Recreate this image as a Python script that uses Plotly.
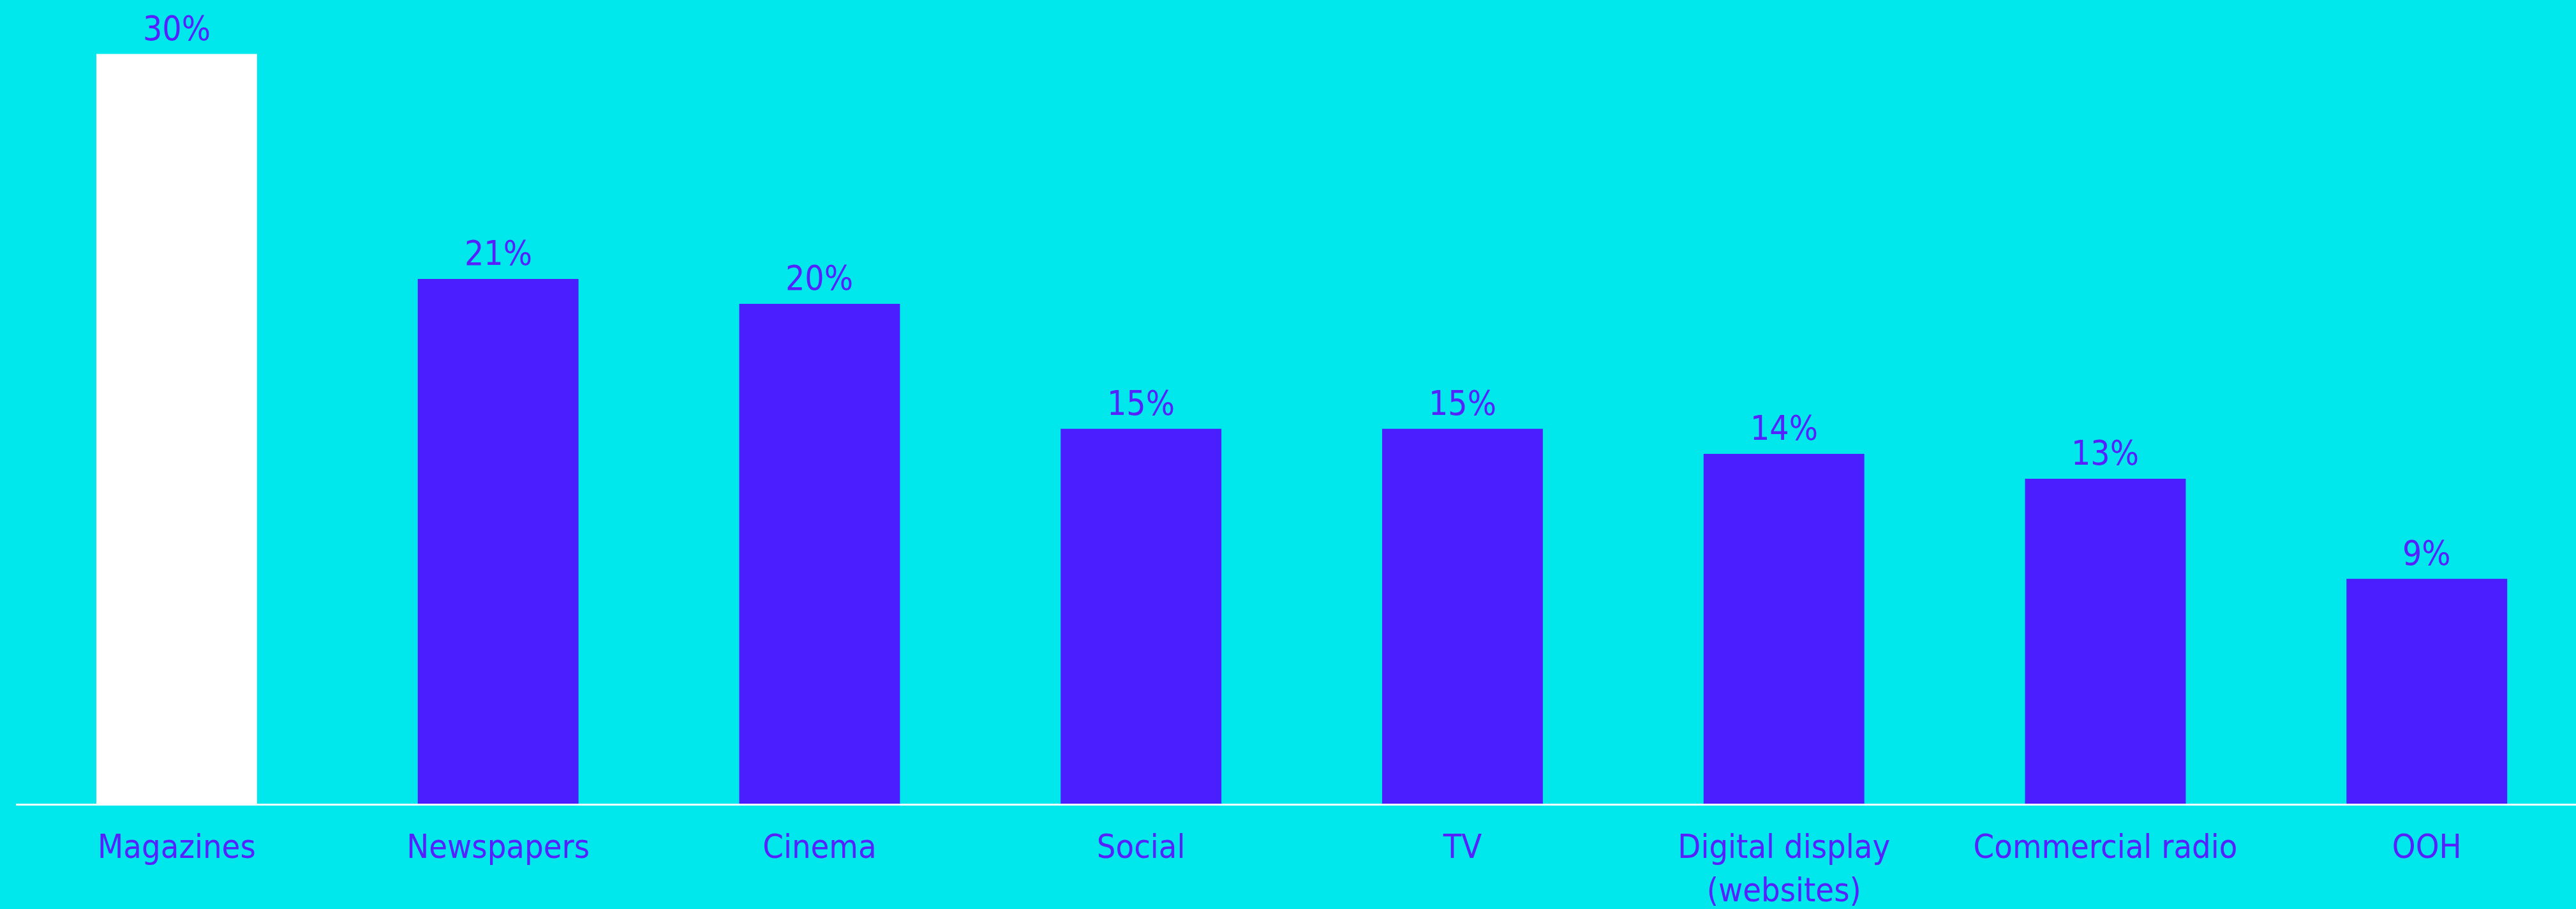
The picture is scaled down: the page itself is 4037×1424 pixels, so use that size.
import plotly.graph_objects as go

# Share of respondents by media channel
channels = ["Magazines", "Newspapers", "Cinema", "Social", "TV",
            "Digital display<br>(websites)", "Commercial radio", "OOH"]
shares = [30, 21, 20, 15, 15, 14, 13, 9]

BG = "#00E8EB"
PURPLE = "#4B1EFF"
TEXT = "#5522FF"
FONT = "DejaVu Sans Condensed"

colors = ["#FFFFFF"] + [PURPLE] * (len(shares) - 1)

fig = go.Figure(
    go.Bar(
        x=list(range(len(channels))),
        y=shares,
        width=0.5,
        marker=dict(color=colors, line=dict(width=0)),
        hoverinfo="skip",
    )
)

for i, v in enumerate(shares):
    fig.add_annotation(
        x=i, y=v, text=f"{v}%", showarrow=False,
        yanchor="bottom", yshift=8,
        font=dict(family=FONT, size=53, color=TEXT),
    )

fig.update_layout(
    width=4037, height=1424,
    paper_bgcolor=BG, plot_bgcolor=BG,
    margin=dict(l=25, r=0, t=0, b=161),
    showlegend=False,
    bargap=0.5,
    font=dict(family=FONT, size=52, color=TEXT),
)

fig.update_xaxes(
    tickmode="array",
    tickvals=list(range(len(channels))),
    ticktext=channels,
    range=[-0.5, 7.464],
    showgrid=False, zeroline=False,
    showline=True, linecolor="#FFFFFF", linewidth=3,
    ticks="", ticklabelstandoff=20,
    tickfont=dict(family=FONT, size=52, color=TEXT),
)
fig.update_yaxes(
    range=[0, 32.16],
    visible=False, showgrid=False, zeroline=False,
)

fig.write_html("out.html")
